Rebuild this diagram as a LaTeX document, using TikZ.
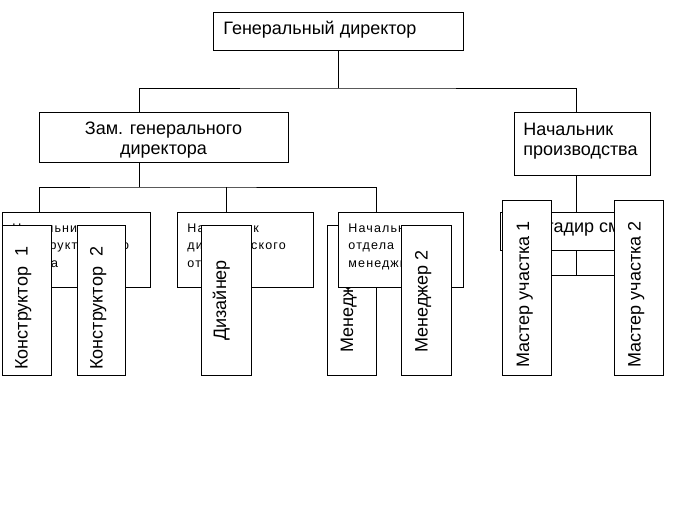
\documentclass[tikz,border=0pt]{standalone}
\usepackage{fontspec}
\setmainfont{Liberation Sans}
\newfontfamily\spacedfont[LetterSpace=9]{Liberation Sans}
\usepackage{tikz}

\begin{document}
\begin{tikzpicture}[x=1pt,y=-1pt,line width=0.9pt,
   box/.style={draw,fill=white,inner sep=0pt},
   big/.style={font=\fontsize{18}{20}\selectfont,inner sep=0pt,anchor=base west},
   bigpar/.style={font=\fontsize{18}{20}\selectfont,inner sep=0pt},
   small/.style={font=\spacedfont\fontsize{12.5}{17.5}\selectfont,inner sep=0pt,align=left,anchor=north west},
   vert/.style={big,rotate=90}]

\useasboundingbox (0,0) rectangle (676,525);

% top levels
\node[box,minimum width=250,minimum height=38] (gd) at (338,31){};
\node[big] (gdtxt) at (223,34.3){Генеральный директор};
\node[box,minimum width=249,minimum height=50] (zam) at (163.5,137){};
\node[bigpar,align=center] (zamtxt) at (163.5,140.4){Зам. генерального\\директора};
\node[box,minimum width=136,minimum height=63] (np) at (582,143.5){};
\node[bigpar,align=left,anchor=north west] (nptxt) at (523,122.6){Начальник\\производства};

\coordinate (j1) at (338,88);
\coordinate (zamin) at (139,112);
\coordinate (npin) at (576,112);
\coordinate (zamout) at (139,162);
\coordinate (j2) at (139,187);
\coordinate (nkin) at (39,212);
\coordinate (ndin) at (226.5,212);
\coordinate (nmin) at (376,212);
\coordinate (npout) at (576,175);
\coordinate (brin) at (576,212);
\coordinate (brout) at (576,250);
\coordinate (j3) at (576,275);
\coordinate (u1in) at (527,275);
\coordinate (u2in) at (638,275);

\draw (gd.south) -- (j1);
\draw (zamin) |- (j1) -| (npin);
\draw (zamout) -- (j2);
\draw (nkin) |- (j2) -| (nmin);
\draw (ndin) -- (ndin |- j2);
\draw (npout) -- (brin);
\draw (brout) -- (j3);
\draw (u1in) -- (u2in);

% construction
\node[box,minimum width=148,minimum height=75] (nk) at (76,249.5){};
\node[small] (nktxt) at (12,223.1){Начальник\\конструкторского\\отдела};
\node[box,minimum width=49,minimum height=150] (k1) at (26.5,300){};
\node[vert] (k1txt) at (27.5,370){Конструктор~~1};
\node[box,minimum width=48,minimum height=150] (k2) at (101,300){};
\node[vert] (k2txt) at (102.5,370){Конструктор~~2};

% design
\node[box,minimum width=136,minimum height=75] (nd) at (245,249.5){};
\node[small] (ndtxt) at (187,223.1){Начальник\\дизайнерского\\отдела};
\node[box,minimum width=50,minimum height=150] (dz) at (226,300){};
\node[vert] (dztxt) at (226,341){Дизайнер};

% management
\node[box,minimum width=49,minimum height=150] (m1) at (351.5,300){};
\node[vert] (m1txt) at (353,353){Менеджер 1};
\node[box,minimum width=125,minimum height=75] (nm) at (400.5,249.5){};
\node[small] (nmtxt) at (348,223.1){Начальник\\отдела\\менеджмента};
\node[box,minimum width=50,minimum height=150] (m2) at (426,300){};
\node[vert] (m2txt) at (427.5,353){Менеджер 2};

% production
\node[box,minimum width=152,minimum height=38] (br) at (576,231){};
\node[big] (brtxt) at (515,232){Бригадир смены};
\node[box,minimum width=49,minimum height=175] (u1) at (526.5,287.5){};
\node[vert] (u1txt) at (529,368){Мастер участка 1};
\node[box,minimum width=49,minimum height=175] (u2) at (638.5,287.5){};
\node[vert] (u2txt) at (640.5,368){Мастер участка 2};

\end{tikzpicture}
\end{document}
